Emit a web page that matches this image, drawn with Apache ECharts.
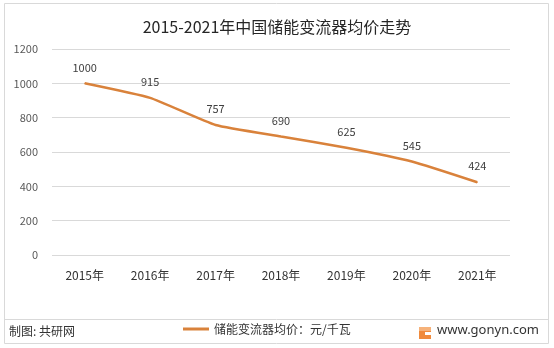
<!DOCTYPE html>
<html><head><meta charset="utf-8">
<script src="https://cdn.jsdelivr.net/npm/echarts@6/dist/echarts.min.js"></script>
<style>html,body{margin:0;padding:0;background:#fff}#c{width:554px;height:348px}</style>
</head><body><div id="c"></div>
<script>
const categories = ['2015年','2016年','2017年','2018年','2019年','2020年','2021年'];
const prices = [1000, 915, 757, 690, 625, 545, 424];
const yTicks = [0, 200, 400, 600, 800, 1000, 1200];
const seriesName = '储能变流器均价：元/千瓦';
const titleText = '2015-2021年中国储能变流器均价走势';
const sourceText = '制图: 共研网';
const siteText = 'www.gonyn.com';

const font = '"Noto Sans CJK SC", "Noto Sans", sans-serif';
const chart = echarts.init(document.getElementById('c'), null, {renderer: 'canvas'});
chart.setOption({
  animation: false,
  textStyle: {fontFamily: font},
  title: {text: titleText, left: 'center', top: 14,
    textStyle: {fontSize: 16, fontWeight: 'normal', color: '#262626', fontFamily: font}},
  grid: {left: 52, right: 44, top: 49, bottom: 93},
  legend: {bottom: 8, left: 178, itemWidth: 26, itemHeight: 3, icon: 'rect', itemGap: 4,
    data: [seriesName],
    textStyle: {fontSize: 12, color: '#333', fontFamily: font}},
  xAxis: {type: 'category', data: categories, boundaryGap: true,
    axisLine: {show: false}, axisTick: {show: false},
    axisLabel: {fontSize: 12, color: '#333', margin: 14}},
  yAxis: {type: 'value', min: yTicks[0], max: yTicks[yTicks.length-1], interval: 200,
    axisLine: {show: false}, axisTick: {show: false},
    axisLabel: {fontSize: 11, color: '#595959', margin: 14, formatter: v => String(v)},
    splitLine: {lineStyle: {color: '#d9d9d9'}}},
  series: [{name: seriesName, type: 'line', data: prices, smooth: 0.15,
    showSymbol: true, symbol: 'circle', symbolSize: 1,
    lineStyle: {color: '#D9823B', width: 2.5}, itemStyle: {color: '#D9823B'},
    label: {show: true, position: 'top', distance: 10, fontSize: 11, color: '#404040'}}],
  graphic: [
    {type: 'rect', shape: {x: 4.5, y: 3.5, width: 544, height: 340},
     style: {fill: 'none', stroke: '#d9d9d9', lineWidth: 1}, silent: true},
    {type: 'line', shape: {x1: 5, y1: 319.5, x2: 548, y2: 319.5},
     style: {stroke: '#d9d9d9', lineWidth: 1}},
    {type: 'text', left: 9, top: 325, style: {text: sourceText, fontSize: 12, fill: '#333', fontFamily: font}},
    {type: 'rect', shape: {x: 419, y: 327, width: 12, height: 12}, style: {fill: '#F08A3C'}},
    {type: 'rect', shape: {x: 419, y: 327, width: 12, height: 4}, style: {fill: '#F6B27A'}},
    {type: 'rect', shape: {x: 425, y: 332, width: 6, height: 3}, style: {fill: '#fff'}},
    {type: 'text', left: 437, top: 324, style: {text: siteText, fontSize: 13, fill: '#333', fontFamily: '"Noto Sans", sans-serif'}}
  ]
});
</script></body></html>
